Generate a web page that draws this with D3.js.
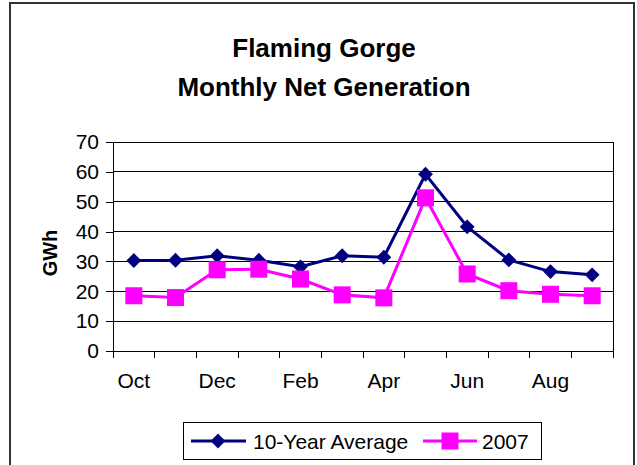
<!DOCTYPE html>
<html><head><meta charset="utf-8">
<script src="https://cdn.jsdelivr.net/npm/d3@7/dist/d3.min.js"></script>
<style>body{margin:0;background:#fff}svg{display:block}text{font-family:"Liberation Sans",Arial,sans-serif}</style>
</head><body>
<svg id="c" width="637" height="465"></svg>
<script>
const months = ["Oct","Nov","Dec","Jan","Feb","Mar","Apr","May","Jun","Jul","Aug","Sep"];
const avg10 = [30.3,30.4,31.9,30.4,28.2,31.9,31.4,59.2,41.6,30.5,26.6,25.5];
const y2007 = [18.5,17.9,27.2,27.4,24.1,18.8,17.8,51.3,25.8,20.2,19.0,18.5];
const yTicks = [0,10,20,30,40,50,60,70];
const xLabelMonths = ["Oct","Dec","Feb","Apr","Jun","Aug"];
const titleLines = ["Flaming Gorge","Monthly Net Generation"];
const yTitle = "GWh";
const seriesNames = ["10-Year Average","2007"];

const svg = d3.select("#c");
// outer chart border
svg.append("rect").attr("x",10).attr("y",3).attr("width",624).attr("height",480)
  .attr("fill","#fff").attr("stroke","#333").attr("stroke-width",2);

const L=113,R=613,T=142,B=351;
const x = d3.scaleBand().domain(months).range([L,R]).paddingInner(0).paddingOuter(0);
const y = d3.scaleLinear().domain([0,70]).range([B,T]);
const cx = m => x(m)+x.bandwidth()/2;

// title
svg.append("g").selectAll("text").data(titleLines).join("text")
  .attr("x",324).attr("y",(d,i)=>57+i*39).attr("text-anchor","middle")
  .attr("font-size",26).attr("font-weight","bold").text(d=>d);

// gridlines
svg.append("g").selectAll("line").data(yTicks.filter(t=>t>0)).join("line")
  .attr("x1",L).attr("x2",R).attr("y1",d=>y(d)).attr("y2",d=>y(d))
  .attr("stroke","#000").attr("stroke-width",1).attr("shape-rendering","crispEdges");
// plot border right
svg.append("line").attr("x1",R).attr("x2",R).attr("y1",T).attr("y2",B)
  .attr("stroke","#000").attr("shape-rendering","crispEdges");

// y axis
const ya = svg.append("g").attr("transform",`translate(${L},0)`)
  .call(d3.axisLeft(y).tickValues(yTicks).tickSize(7).tickPadding(7).tickSizeOuter(0));
ya.selectAll("text").attr("font-size",21).attr("fill","#000");
ya.selectAll("line,path").attr("stroke","#000").attr("shape-rendering","crispEdges");

// x axis with ticks at category boundaries
const xa = svg.append("g").attr("transform",`translate(0,${B})`);
xa.append("line").attr("x1",L).attr("x2",R).attr("stroke","#000").attr("shape-rendering","crispEdges");
xa.selectAll("line.t").data(months.concat(["__end"])).join("line").attr("class","t")
  .attr("x1",(d,i)=>i<months.length?x(d):R).attr("x2",(d,i)=>i<months.length?x(d):R)
  .attr("y1",0).attr("y2",7).attr("stroke","#000").attr("shape-rendering","crispEdges");
xa.selectAll("text").data(xLabelMonths).join("text")
  .attr("x",d=>cx(d)).attr("y",37).attr("text-anchor","middle").attr("font-size",21).text(d=>d);

// y title
svg.append("text").attr("transform","translate(57,253) rotate(-90)").attr("text-anchor","middle")
  .attr("font-size",20).attr("font-weight","bold").text(yTitle);

const line = d3.line().x((d,i)=>cx(months[i])).y(d=>y(d));
const diamondPath = d3.symbol().type(d3.symbolSquare).size(110)();
// series 1
svg.append("path").datum(avg10).attr("d",line).attr("fill","none").attr("stroke","#000080").attr("stroke-width",3);
svg.append("g").selectAll("path").data(avg10).join("path")
  .attr("d",diamondPath).attr("fill","#000080")
  .attr("transform",(d,i)=>`translate(${cx(months[i])},${y(d)}) rotate(45)`);
// series 2
svg.append("path").datum(y2007).attr("d",line).attr("fill","none").attr("stroke","#FF00FF").attr("stroke-width",3);
svg.append("g").selectAll("rect").data(y2007).join("rect")
  .attr("x",(d,i)=>cx(months[i])-8.5).attr("y",d=>y(d)-8.5).attr("width",17).attr("height",17)
  .attr("fill","#FF00FF");

// legend
const lg = svg.append("g");
lg.append("rect").attr("x",183.5).attr("y",422.5).attr("width",358).attr("height",37)
  .attr("fill","#fff").attr("stroke","#000");
const ly = 441;
lg.append("line").attr("x1",191).attr("x2",246).attr("y1",ly).attr("y2",ly).attr("stroke","#000080").attr("stroke-width",3);
lg.append("path").attr("d",diamondPath).attr("fill","#000080")
  .attr("transform",`translate(218,${ly}) rotate(45)`);
lg.append("text").attr("x",253).attr("y",ly+7.5).attr("font-size",21).text(seriesNames[0]);
lg.append("line").attr("x1",423).attr("x2",477).attr("y1",ly).attr("y2",ly).attr("stroke","#FF00FF").attr("stroke-width",3);
lg.append("rect").attr("x",441.5).attr("y",ly-8.5).attr("width",17).attr("height",17).attr("fill","#FF00FF");
lg.append("text").attr("x",482).attr("y",ly+7.5).attr("font-size",21).text(seriesNames[1]);
</script>
</body></html>
